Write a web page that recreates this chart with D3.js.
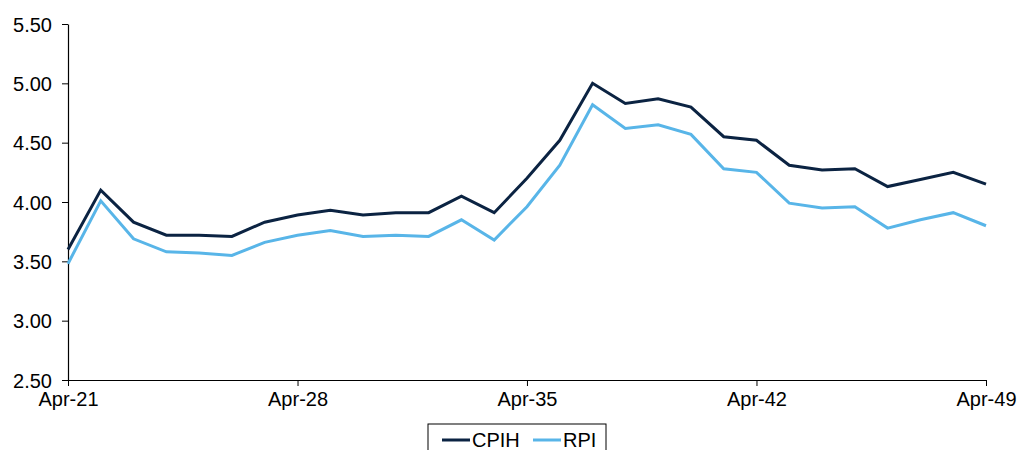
<!DOCTYPE html>
<html>
<head>
<meta charset="utf-8">
<script src="https://cdn.jsdelivr.net/npm/d3@7"></script>
<style>
  html, body { margin: 0; padding: 0; background: #fff; }
  svg { display: block; }
  text { font-family: "Liberation Sans", Arial, sans-serif; fill: #000; }
</style>
</head>
<body>
<svg id="chart" width="1018" height="450"></svg>
<script>
// Yearly observations, each April from 2021 to 2049
const years = d3.range(2021, 2050);
const cpih = [3.60, 4.10, 3.83, 3.72, 3.72, 3.71, 3.83, 3.89, 3.93, 3.89,
              3.91, 3.91, 4.05, 3.91, 4.20, 4.52, 5.00, 4.83, 4.87, 4.80,
              4.55, 4.52, 4.31, 4.27, 4.28, 4.13, 4.19, 4.25, 4.15];
const rpi  = [3.48, 4.01, 3.69, 3.58, 3.57, 3.55, 3.66, 3.72, 3.76, 3.71,
              3.72, 3.71, 3.85, 3.68, 3.96, 4.31, 4.82, 4.62, 4.65, 4.57,
              4.28, 4.25, 3.99, 3.95, 3.96, 3.78, 3.85, 3.91, 3.80];
const xTickYears = [2021, 2028, 2035, 2042, 2049];
const yTicks = [2.5, 3.0, 3.5, 4.0, 4.5, 5.0, 5.5];
const seriesNames = ["CPIH", "RPI"];
const seriesColors = ["#0b2342", "#58b5e8"];

const svg = d3.select("#chart");
const W = 1018;
const plot = { left: 68, right: W - 32, top: 24, bottom: 380 };

const dates = years.map(y => new Date(y, 3, 1));
const x = d3.scaleTime()
  .domain([dates[0], dates[dates.length - 1]])
  .range([plot.left, plot.right]);
const y = d3.scaleLinear()
  .domain([2.5, 5.5])
  .range([plot.bottom, plot.top]);

// Axes
const fmt = d3.timeFormat("%b-%y");
const xAxis = d3.axisBottom(x)
  .tickValues(xTickYears.map(yr => new Date(yr, 3, 1)))
  .tickFormat(fmt)
  .tickSize(6)
  .tickPadding(6)
  .tickSizeOuter(0);
const yAxis = d3.axisLeft(y)
  .tickValues(yTicks)
  .tickFormat(d3.format(".2f"))
  .tickSize(6)
  .tickPadding(10)
  .tickSizeOuter(0);

const gx = svg.append("g")
  .attr("transform", `translate(0,${plot.bottom})`)
  .call(xAxis);
const gy = svg.append("g")
  .attr("transform", `translate(${plot.left},0)`)
  .call(yAxis);

[gx, gy].forEach(g => {
  g.selectAll("path.domain").attr("stroke", "#000").attr("stroke-width", 1.2);
  g.selectAll(".tick line").attr("stroke", "#000").attr("stroke-width", 1);
  g.selectAll(".tick text")
    .style("font-family", '"Liberation Sans", Arial, sans-serif')
    .style("font-size", "20px")
    .attr("fill", "#000");
});
gy.selectAll(".tick text").attr("dy", "0.36em");

// Series lines
const line = d3.line()
  .x((d, i) => x(dates[i]))
  .y(d => y(d));

[cpih, rpi].forEach((vals, k) => {
  svg.append("path")
    .datum(vals)
    .attr("fill", "none")
    .attr("stroke", seriesColors[k])
    .attr("stroke-width", 3)
    .attr("stroke-linejoin", "miter")
    .attr("d", line);
});

// Legend, boxed, centred under the axis
const legend = svg.append("g").attr("transform", "translate(428,424)");
legend.append("rect")
  .attr("x", 0).attr("y", 0)
  .attr("width", 178).attr("height", 32)
  .attr("fill", "#fff")
  .attr("stroke", "#000")
  .attr("stroke-width", 1);
const itemX = [14, 105];
seriesNames.forEach((name, k) => {
  const g = legend.append("g").attr("transform", `translate(${itemX[k]},0)`);
  g.append("line")
    .attr("x1", 0).attr("x2", 28)
    .attr("y1", 16).attr("y2", 16)
    .attr("stroke", seriesColors[k])
    .attr("stroke-width", 3);
  g.append("text")
    .attr("x", 30).attr("y", 23)
    .style("font-size", "20px")
    .text(name);
});
</script>
</body>
</html>
